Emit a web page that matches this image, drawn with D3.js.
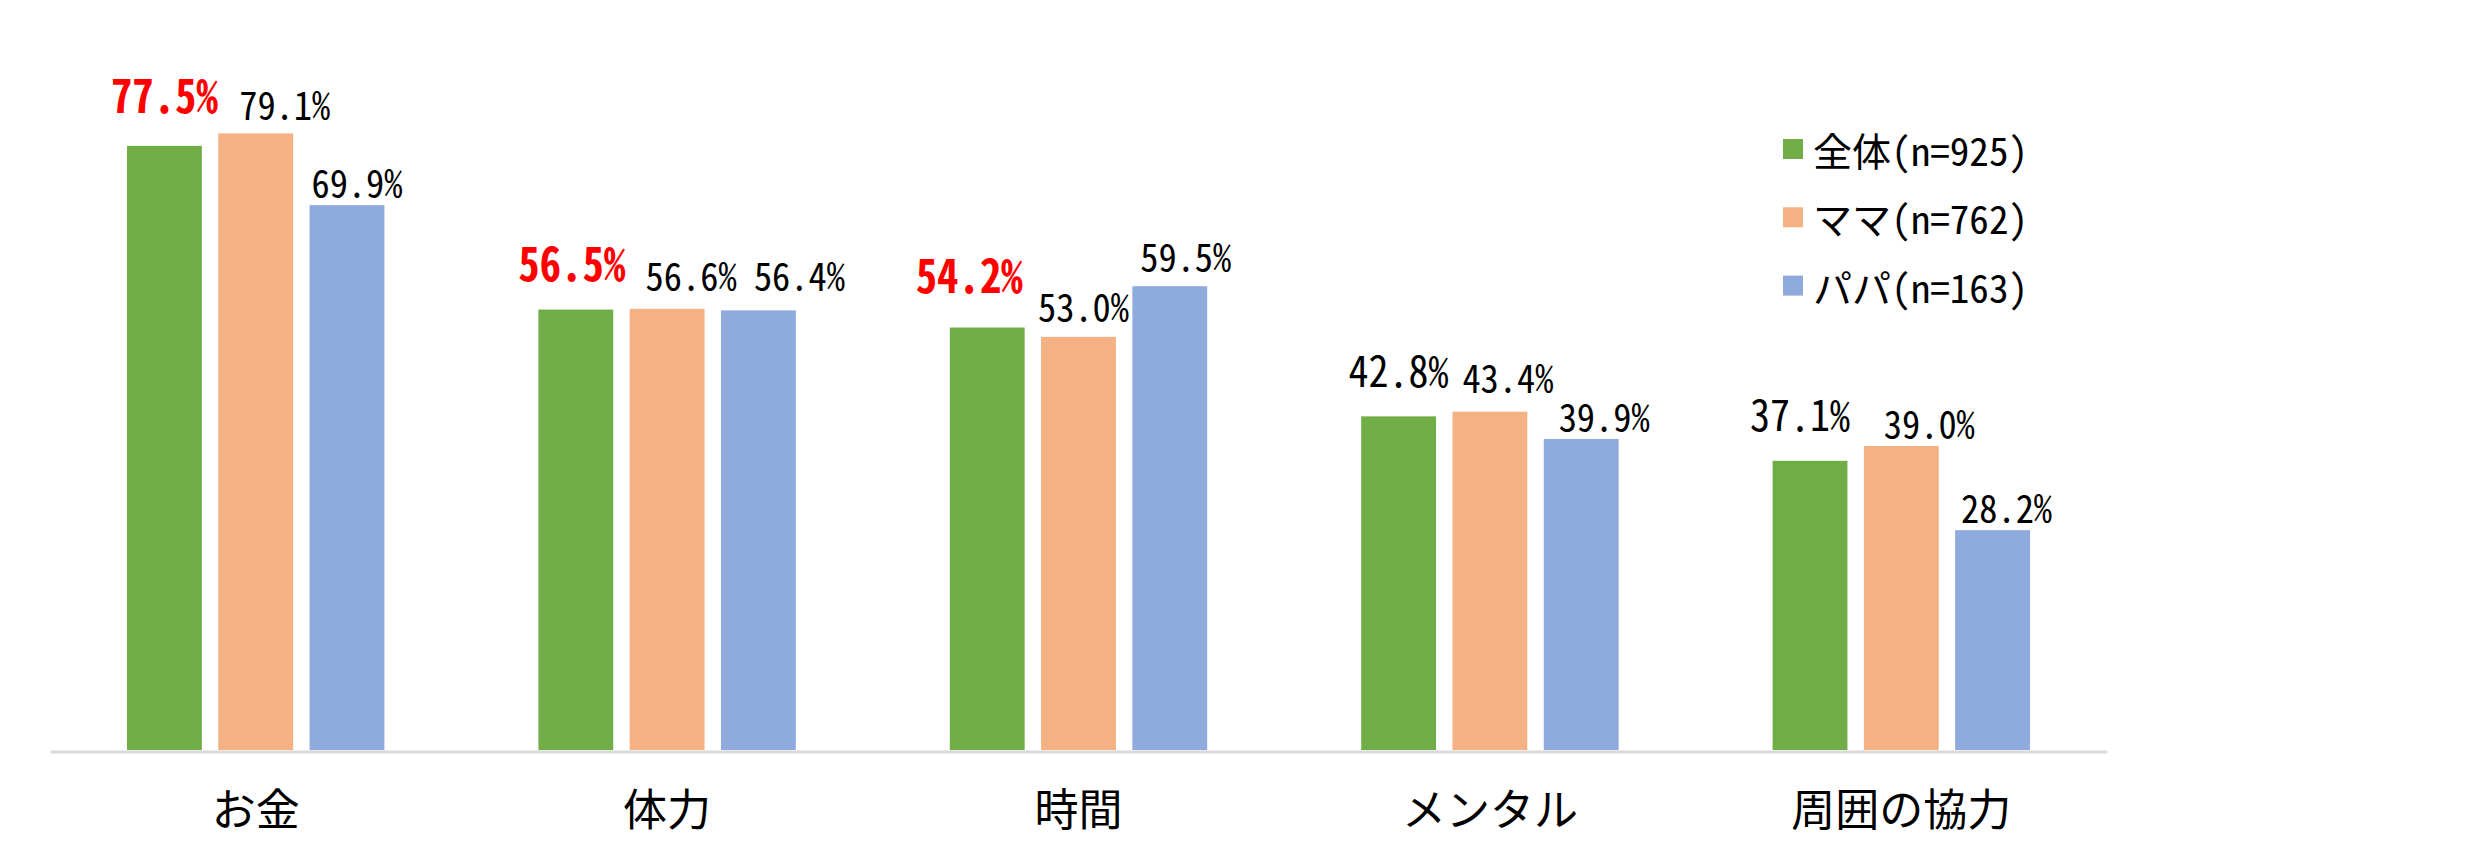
<!DOCTYPE html>
<html>
<head>
<meta charset="utf-8">
<script src="https://cdn.jsdelivr.net/npm/d3@7"></script>
<style>
  html, body { margin: 0; padding: 0; background: #ffffff; }
  svg { display: block; }
</style>
</head>
<body>
<svg id="chart" width="2477" height="868"></svg>
<script>
// ---- data ----
const categories = ["お金", "体力", "時間", "メンタル", "周囲の協力"];
const seriesNames = ["全体(n=925)", "ママ(n=762)", "パパ(n=163)"];
const zentai = [77.5, 56.5, 54.2, 42.8, 37.1];
const mama   = [79.1, 56.6, 53.0, 43.4, 39.0];
const papa   = [69.9, 56.4, 59.5, 39.9, 28.2];
const emphasized = [true, true, true, false, false]; // 全体 labels shown in red

// manual nudges of the value labels (as placed in the original), px
const labelNudgeX = [[0, -4, -18, 0, -10], [29, 24, 5, 18, 28], [10, 41, 16, 23, 14]];
const labelNudgeY = [[-26, -22, -28, -22, -23], [-6, -11, -8, -12, 0], [0, -12, -7, 0, 0]];

const seriesValues = [zentai, mama, papa];
const colors = ["#70AD47", "#F4B183", "#8FAADC"];

// ---- font check ----
function fontExists(name) {
  const c = document.createElement("canvas").getContext("2d");
  const s = "0123456789%.mw";
  c.font = "40px serif"; const a = c.measureText(s).width;
  c.font = `40px "${name}", serif`; const b = c.measureText(s).width;
  return Math.abs(a - b) > 0.5;
}
const monoFont = fontExists("Noto Sans Mono CJK JP")
  ? '"Noto Sans Mono CJK JP", "Noto Sans CJK JP", sans-serif'
  : '"Noto Sans CJK JP", sans-serif';
const propFont = '"Noto Sans CJK JP", "Noto Sans", sans-serif';

const svg = d3.select("#chart");

// ---- scales ----
const x0 = d3.scaleBand().domain(categories).range([50, 2107]).padding(0);
const x1 = d3.scaleBand().domain(d3.range(3)).range([77, x0.bandwidth() - 77]).paddingInner(0.18);
const y = d3.scaleLinear().domain([0, 90]).range([750, 750 - 90 * 7.795]);

// ---- bars ----
const rows = [];
seriesValues.forEach((vals, s) => vals.forEach((v, i) => rows.push({ s, i, v })));

svg.append("g").selectAll("rect").data(rows).join("rect")
  .attr("x", d => x0(categories[d.i]) + x1(d.s))
  .attr("y", d => y(d.v))
  .attr("width", x1.bandwidth())
  .attr("height", d => y(0) - y(d.v))
  .attr("fill", d => colors[d.s]);

// ---- axis line ----
const xAxis = d3.axisBottom(x0).tickSize(0).tickPadding(0).tickFormat("");
const axisG = svg.append("g").attr("transform", "translate(0,751.5)").call(xAxis);
axisG.select(".domain").attr("stroke", "#d9d9d9").attr("stroke-width", 3);
axisG.selectAll(".tick").remove();

// category labels
svg.append("g").selectAll("text").data(categories).join("text")
  .attr("x", d => x0(d) + x0.bandwidth() / 2)
  .attr("y", 807)
  .attr("text-anchor", "middle")
  .attr("dominant-baseline", "central")
  .attr("font-family", propFont)
  .attr("font-size", 44)
  .attr("fill", "#000")
  .text(d => d);

// ---- value labels ----
function isRed(d) { return d.s === 0 && emphasized[d.i]; }
function labelSize(d) {
  if (isRed(d)) return 47;
  if (d.s === 0) return 43;
  return 39;
}
function labelWidth(d) {
  if (isRed(d)) return 107;
  if (d.s === 0) return 100;
  return 91;
}
svg.append("g").selectAll("text").data(rows).join("text")
  .attr("x", d => x0(categories[d.i]) + x1(d.s) + x1.bandwidth() / 2 + labelNudgeX[d.s][d.i])
  .attr("y", d => y(d.v) - 7 + labelNudgeY[d.s][d.i])
  .attr("text-anchor", "middle")
  .attr("font-family", monoFont)
  .attr("font-size", d => labelSize(d))
  .attr("font-weight", d => isRed(d) ? "bold" : "normal")
  .attr("fill", d => isRed(d) ? "#FF0000" : "#000000")
  .attr("textLength", d => labelWidth(d))
  .attr("lengthAdjust", "spacingAndGlyphs")
  .text(d => d.v.toFixed(1) + "%");

// ---- legend ----
const legend = svg.append("g").attr("transform", "translate(1783,149)");
const li = legend.selectAll("g").data(seriesNames).join("g")
  .attr("transform", (d, i) => `translate(0,${i * 68.3})`);
li.append("rect").attr("x", 0).attr("y", -10).attr("width", 20).attr("height", 20)
  .attr("fill", (d, i) => colors[i]);
li.append("text").attr("x", 30).attr("y", 0)
  .attr("dominant-baseline", "central")
  .attr("font-family", monoFont)
  .attr("font-size", 39)
  .attr("textLength", 215)
  .attr("lengthAdjust", "spacingAndGlyphs")
  .attr("fill", "#000")
  .text(d => d);
</script>
</body>
</html>
